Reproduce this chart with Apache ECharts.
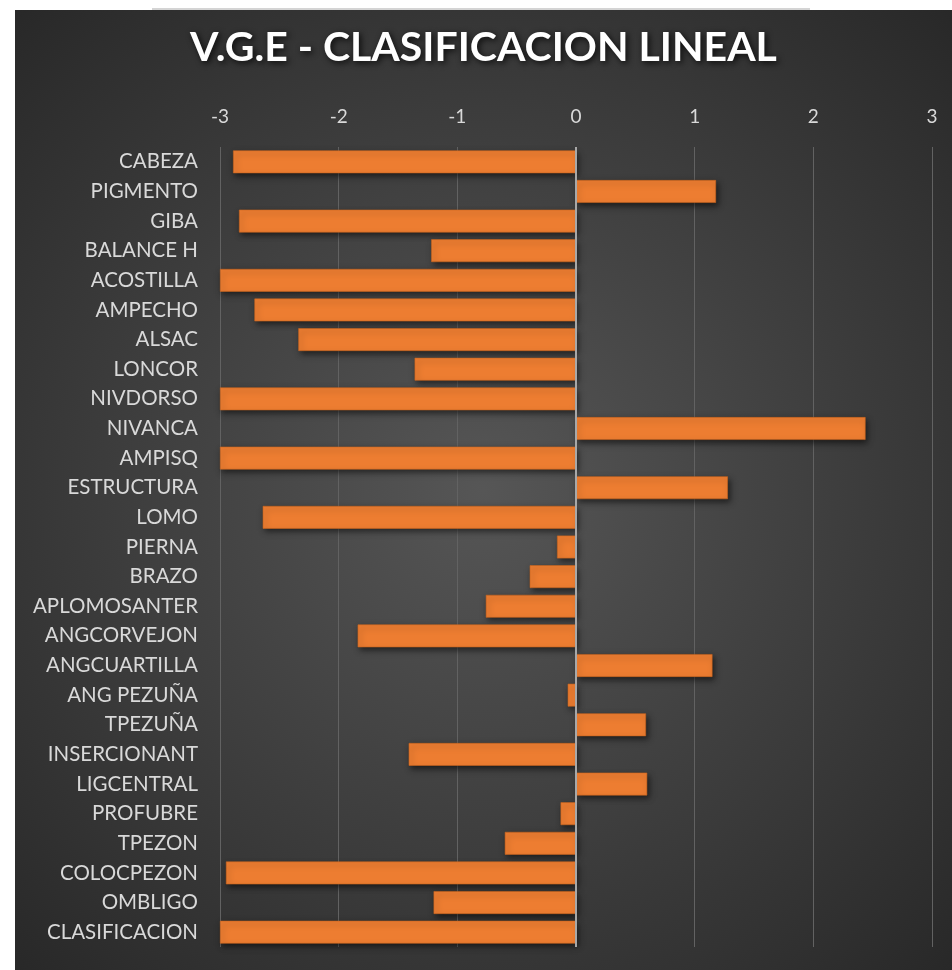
<!DOCTYPE html>
<html>
<head>
<meta charset="utf-8">
<script src="https://cdn.jsdelivr.net/npm/echarts@6/dist/echarts.min.js"></script>
<style>
html,body{margin:0;padding:0;background:#ffffff;width:952px;height:970px;overflow:hidden;}
#topline{position:absolute;left:152px;top:8px;width:658px;height:2px;background:#d4d4d4;}
#chart{position:absolute;left:15px;top:10px;width:937px;height:960px;}
</style>
</head>
<body>
<div id="topline"></div>
<div id="chart"></div>
<script>
const titleText = 'V.G.E - CLASIFICACION LINEAL';
const categories = ['CABEZA','PIGMENTO','GIBA','BALANCE H','ACOSTILLA','AMPECHO','ALSAC','LONCOR','NIVDORSO','NIVANCA','AMPISQ','ESTRUCTURA','LOMO','PIERNA','BRAZO','APLOMOSANTER','ANGCORVEJON','ANGCUARTILLA','ANG PEZUÑA','TPEZUÑA','INSERCIONANT','LIGCENTRAL','PROFUBRE','TPEZON','COLOCPEZON','OMBLIGO','CLASIFICACION'];
const values = [-2.89, 1.18, -2.84, -1.22, -3, -2.71, -2.34, -1.36, -3, 2.44, -3, 1.28, -2.64, -0.16, -0.39, -0.76, -1.84, 1.15, -0.07, 0.59, -1.41, 0.60, -0.13, -0.60, -2.95, -1.20, -3];
const xMin = -3, xMax = 3, xStep = 1;

const chart = echarts.init(document.getElementById('chart'));
chart.setOption({
  backgroundColor: {
    type: 'radial', x: 0.5, y: 0.5, r: 0.75,
    colorStops: [{offset: 0, color: '#565656'}, {offset: 1, color: '#262626'}]
  },
  title: {
    text: titleText, left: 'center', top: 12,
    textStyle: {
      color: '#ffffff', fontFamily: 'Lato', fontWeight: 'bold', fontSize: 41,
      textShadowColor: 'rgba(0,0,0,0.8)', textShadowBlur: 6, textShadowOffsetX: 2, textShadowOffsetY: 2
    }
  },
  grid: {left: 205, right: 20, top: 137, bottom: 23, containLabel: false},
  xAxis: {
    type: 'value', position: 'top', min: xMin, max: xMax, interval: xStep,
    axisLine: {show: false}, axisTick: {show: false},
    axisLabel: {color: '#d9d9d9', fontFamily: 'Lato', fontSize: 19, margin: 21},
    splitLine: {show: true, lineStyle: {color: '#626262', width: 1}}
  },
  yAxis: {
    type: 'category', data: categories, inverse: true,
    axisLine: {show: false}, axisTick: {show: false},
    axisLabel: {color: '#d9d9d9', fontFamily: 'Lato', fontSize: 20.5, margin: 22}
  },
  series: [{
    type: 'bar', data: values, barCategoryGap: '23%',
    itemStyle: {
      color: '#ED7D31', borderColor: '#c9651f', borderWidth: 0.6,
      shadowColor: 'rgba(0,0,0,0.55)', shadowBlur: 6, shadowOffsetX: 2, shadowOffsetY: 3
    },
    markLine: {
      silent: true, symbol: 'none', label: {show: false},
      lineStyle: {color: '#a8a8a8', width: 2, type: 'solid'},
      data: [{xAxis: 0}]
    }
  }]
});
</script>
</body>
</html>
